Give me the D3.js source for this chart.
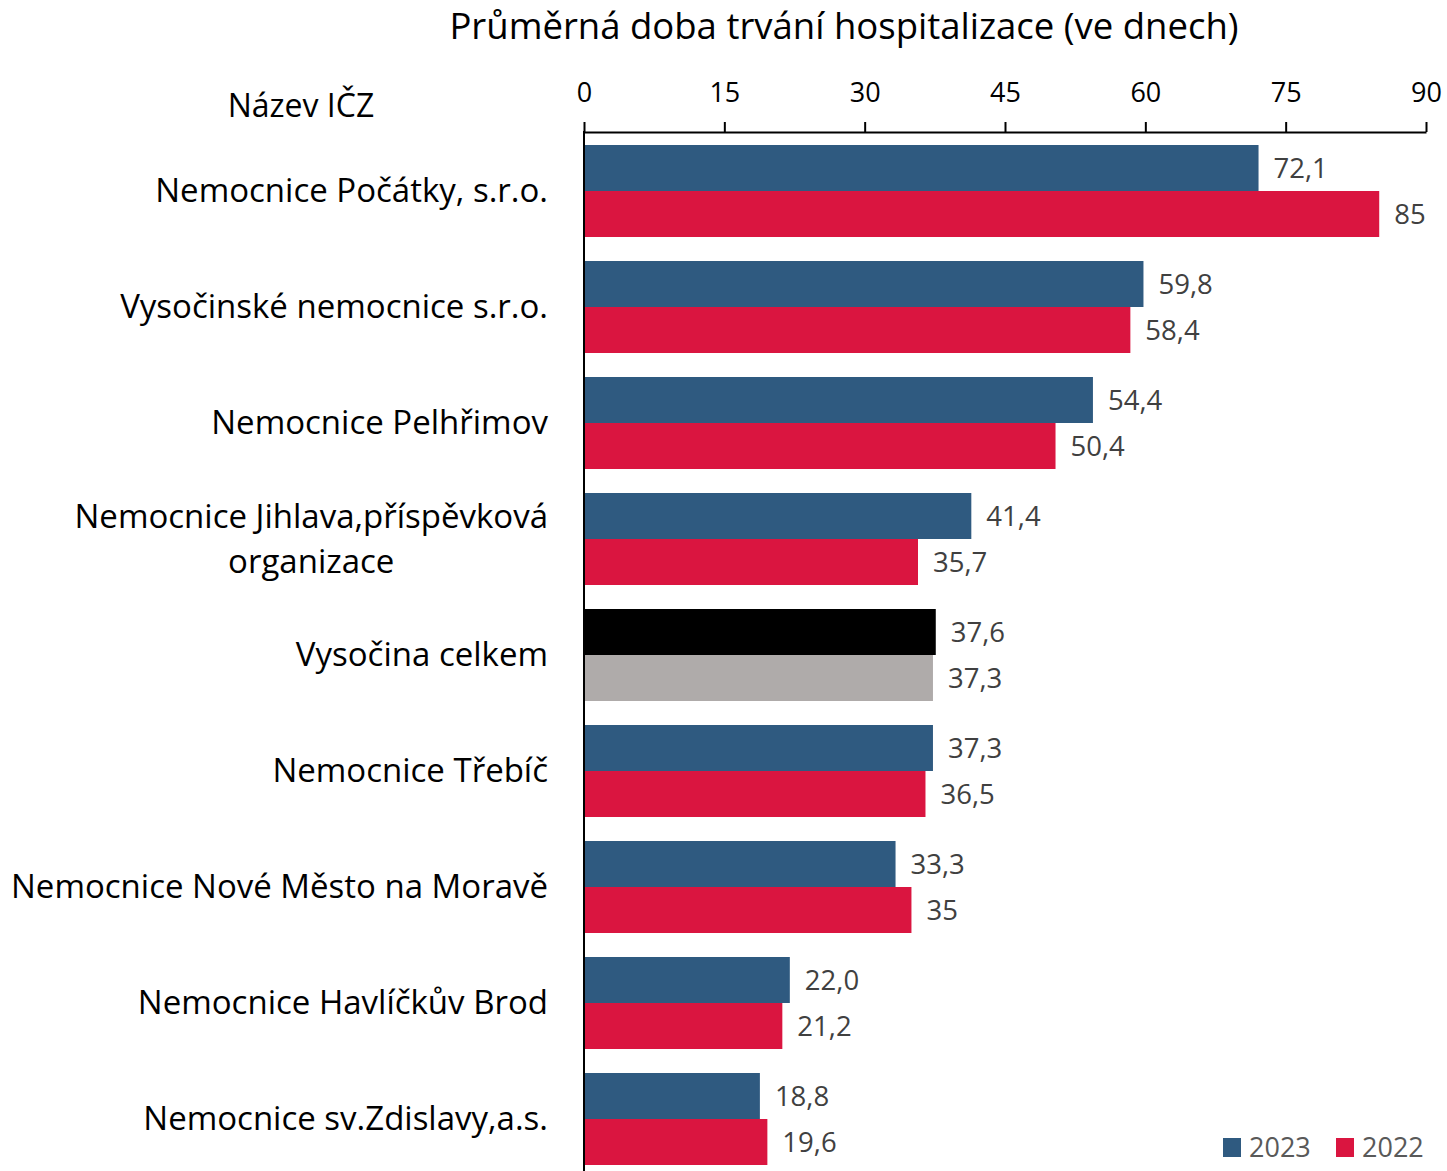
<!DOCTYPE html>
<html>
<head>
<meta charset="utf-8">
<script src="https://cdn.jsdelivr.net/npm/d3@7"></script>
<style>
  html, body { margin: 0; padding: 0; background: #fff; }
  svg text { font-family: "Open Sans", Lato, sans-serif; }
</style>
</head>
<body>
<script>

// categories (top to bottom), a label with "\n" is drawn on two lines
var categories = [
  "Nemocnice Počátky, s.r.o.",
  "Vysočinské nemocnice s.r.o.",
  "Nemocnice Pelhřimov",
  "Nemocnice Jihlava,příspěvková\norganizace",
  "Vysočina celkem",
  "Nemocnice Třebíč",
  "Nemocnice Nové Město na Moravě",
  "Nemocnice Havlíčkův Brod",
  "Nemocnice sv.Zdislavy,a.s."
];
var series = ["2023", "2022"];
var values2023 = [72.1, 59.8, 54.4, 41.4, 37.6, 37.3, 33.3, 22.0, 18.8];
var values2022 = [85, 58.4, 50.4, 35.7, 37.3, 36.5, 35, 21.2, 19.6];
var xTicks = [0, 15, 30, 45, 60, 75, 90];
var totalRow = "Vysočina celkem";

var width = 1447,
    height = 1171;

var colors = { "2023": "#2f5a80", "2022": "#da1540" };
var totalColors = { "2023": "#000000", "2022": "#afabaa" };

var fmt1 = function (v) { return d3.format(".1f")(v).replace(".", ","); };
var fmtPlain = function (v) { return String(v).replace(".", ","); };

var svg = d3.select("body").append("svg")
    .attr("width", width)
    .attr("height", height);

var x = d3.scaleLinear()
    .domain([0, 90])
    .range([584, 1426]);

var y = d3.scaleBand()
    .domain(categories)
    .range([133, 133 + 116 * categories.length])
    .paddingInner(24 / 116)
    .paddingOuter(12 / 116);

var ySub = d3.scaleBand()
    .domain(series)
    .range([0, y.bandwidth()]);

// title
svg.append("text")
    .attr("x", 844)
    .attr("y", 39)
    .attr("text-anchor", "middle")
    .style("font-size", "36.5px")
    .style("fill", "#000")
    .text("Průměrná doba trvání hospitalizace (ve dnech)");

svg.append("text")
    .attr("x", 301)
    .attr("y", 117)
    .attr("text-anchor", "middle")
    .style("font-size", "32px")
    .style("fill", "#000")
    .text("Název IČZ");

// top axis
var xAxis = d3.axisTop(x)
    .tickValues(xTicks)
    .tickSize(10)
    .tickPadding(20)
    .tickSizeOuter(0);

var axisG = svg.append("g")
    .attr("class", "x axis")
    .attr("transform", "translate(0,132)")
    .call(xAxis);

axisG.select(".domain").attr("stroke", "#000").attr("stroke-width", 2);
axisG.selectAll(".tick line").attr("stroke", "#000").attr("stroke-width", 2);
axisG.selectAll(".tick text")
    .style("font-size", "27px")
    .style("font-family", "'Open Sans', Lato, sans-serif")
    .attr("fill", "#000");

// bars
var rows = categories.map(function (c, i) {
  return { cat: c, values: [
    { key: "2023", value: values2023[i], label: fmt1(values2023[i]) },
    { key: "2022", value: values2022[i], label: fmtPlain(values2022[i]) }
  ] };
});

var groups = svg.append("g")
    .selectAll("g")
    .data(rows)
    .enter().append("g")
    .attr("transform", function (d) { return "translate(0," + y(d.cat) + ")"; });

groups.selectAll("rect")
    .data(function (d) { return d.values.map(function (v) { v.cat = d.cat; return v; }); })
    .enter().append("rect")
    .attr("x", x(0))
    .attr("y", function (d) { return ySub(d.key); })
    .attr("width", function (d) { return x(d.value) - x(0); })
    .attr("height", ySub.bandwidth())
    .attr("fill", function (d) { return d.cat === totalRow ? totalColors[d.key] : colors[d.key]; });

groups.selectAll("text.value")
    .data(function (d) { return d.values; })
    .enter().append("text")
    .attr("class", "value")
    .attr("x", function (d) { return x(d.value) + 15; })
    .attr("y", function (d) { return ySub(d.key) + ySub.bandwidth() / 2 + 10; })
    .style("font-size", "27.5px")
    .style("fill", "#404040")
    .text(function (d) { return d.label; });

// category labels, right aligned; two-line labels are centred on each other
groups.each(function (d) {
  var lines = d.cat.split("\n");
  var g = d3.select(this);
  var base = y.bandwidth() / 2 + 11;
  if (lines.length === 1) {
    g.append("text")
      .attr("x", 548)
      .attr("y", base)
      .attr("text-anchor", "end")
      .style("font-size", "33px")
      .style("fill", "#000")
      .text(lines[0]);
  } else {
    var t = g.append("text")
      .attr("y", base - 22.5)
      .style("font-size", "33px")
      .style("fill", "#000")
      .text(lines[0]);
    var w = t.node().getComputedTextLength();
    t.attr("x", 548 - w);
    g.append("text")
      .attr("x", 548 - w / 2)
      .attr("y", base + 22.5)
      .attr("text-anchor", "middle")
      .style("font-size", "33px")
      .style("fill", "#000")
      .text(lines[1]);
  }
});

// vertical axis line
svg.append("line")
    .attr("x1", x(0)).attr("x2", x(0))
    .attr("y1", 131).attr("y2", height)
    .attr("stroke", "#000")
    .attr("stroke-width", 2);

// legend
var legend = svg.append("g")
    .selectAll("g")
    .data(series)
    .enter().append("g")
    .attr("transform", function (d, i) { return "translate(" + (1223 + i * 113) + ",1138)"; });

legend.append("rect")
    .attr("width", 18)
    .attr("height", 19)
    .attr("fill", function (d) { return colors[d]; });

legend.append("text")
    .attr("x", 26)
    .attr("y", 19)
    .style("font-size", "27px")
    .style("fill", "#595959")
    .text(function (d) { return d; });

</script>
</body>
</html>
